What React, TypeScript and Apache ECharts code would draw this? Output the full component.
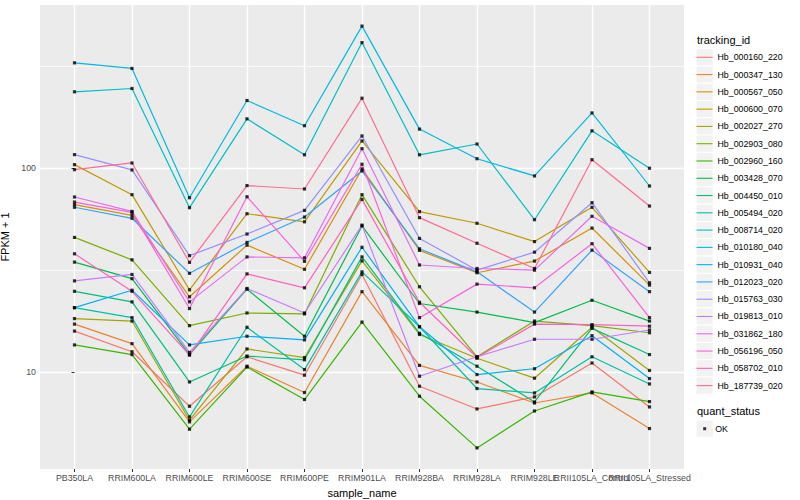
import React, { useEffect, useRef } from 'react';
import * as echarts from 'echarts';

const samples = ['PB350LA', 'RRIM600LA', 'RRIM600LE', 'RRIM600SE', 'RRIM600PE', 'RRIM901LA', 'RRIM928BA', 'RRIM928LA', 'RRIM928LE', 'RRII105LA_Control', 'RRII105LA_Stressed'];

const trackingIds = ['Hb_000160_220', 'Hb_000347_130', 'Hb_000567_050', 'Hb_000600_070', 'Hb_002027_270', 'Hb_002903_080', 'Hb_002960_160', 'Hb_003428_070', 'Hb_004450_010', 'Hb_005494_020', 'Hb_008714_020', 'Hb_010180_040', 'Hb_010931_040', 'Hb_012023_020', 'Hb_015763_030', 'Hb_019813_010', 'Hb_031862_180', 'Hb_056196_050', 'Hb_058702_010', 'Hb_187739_020'];

const colors = ['#F8766D', '#EA8331', '#D89000', '#C09B00', '#A3A500', '#7CAE00', '#39B600', '#00BB4E', '#00BF7D', '#00C1A3', '#00BFC4', '#00BAE0', '#00B0F6', '#35A2FF', '#9590FF', '#C77CFF', '#E76BF3', '#FA62DB', '#FF62BC', '#FF6C91'];

// FPKM + 1 values, one per sample (order of `samples`)
const hb000160 = [15.9, 12.6, 6.81, 11.9, 9.67, 30.1, 8.54, 6.61, 7.57, 11.1, 6.76];
const hb000347 = [17.2, 13.8, 5.71, 10.7, 7.95, 24.8, 10.8, 8.96, 7.07, 7.92, 5.3];
const hb000567 = [66.1, 58.6, 23.4, 41.9, 31.9, 98.9, 39.5, 30.7, 35.0, 50.8, 26.7];
const hb000600 = [103.8, 74.0, 25.3, 59.7, 54.5, 135.6, 61.1, 53.6, 43.6, 64.2, 30.8];
const hb002027 = [18.3, 17.8, 5.82, 13.0, 11.8, 35.1, 15.3, 11.7, 9.35, 16.6, 10.2];
const hb002903 = [45.7, 35.5, 16.9, 19.5, 19.3, 74.0, 26.2, 11.9, 17.8, 16.9, 15.6];
const hb002960 = [13.6, 12.2, 5.26, 10.6, 7.35, 17.6, 7.63, 4.26, 6.46, 8.01, 7.18];
const hb003428 = [34.6, 28.7, 12.2, 25.5, 15.0, 52.0, 21.7, 19.7, 17.5, 22.5, 17.8];
const hb004450 = [24.9, 22.1, 8.96, 12.0, 11.5, 36.7, 15.5, 10.7, 7.15, 16.4, 12.2];
const hb005494 = [20.7, 18.5, 6.04, 16.6, 10.3, 31.0, 16.7, 8.32, 7.92, 11.9, 8.76];
const hb008714 = [236, 245, 63.9, 174, 116, 411, 116, 131, 55.8, 152, 99.7];
const hb010180 = [327, 307, 71.5, 214, 161, 495, 155, 111, 91.4, 186, 81.6];
const hb010931 = [20.7, 25.2, 13.6, 15.0, 14.4, 40.9, 16.7, 9.74, 10.4, 15.1, 9.31];
const hb012023 = [64.2, 56.7, 30.5, 43.2, 57.5, 96.7, 40.2, 31.0, 19.7, 39.6, 24.8];
const hb015763 = [116.2, 97.8, 37.2, 47.5, 62.0, 143.5, 45.2, 31.6, 38.7, 67.6, 27.4];
const hb019813 = [28.0, 30.1, 12.5, 25.7, 19.5, 52.5, 9.56, 11.9, 14.5, 14.5, 16.1];
const hb031862 = [72.1, 61.3, 22.1, 36.7, 36.3, 124.3, 33.5, 32.2, 31.6, 58.0, 40.4];
const hb056196 = [68.1, 60.6, 20.5, 72.3, 34.9, 104.3, 18.5, 27.0, 25.9, 42.6, 18.5];
const hb058702 = [38.0, 24.9, 12.12, 30.3, 25.9, 70.2, 22.0, 11.8, 17.2, 17.1, 16.8];
const hb187739 = [98.1, 105.8, 34.5, 82.0, 78.9, 219.6, 57.1, 42.8, 32.2, 109.8, 65.1];

const seriesValues = [hb000160, hb000347, hb000567, hb000600, hb002027, hb002903, hb002960, hb003428, hb004450, hb005494, hb008714, hb010180, hb010931, hb012023, hb015763, hb019813, hb031862, hb056196, hb058702, hb187739];

const quantStatus = ['OK'];

const FONT = '"Liberation Sans", Arial, Helvetica, sans-serif';

export default function App() {
  const ref = useRef<HTMLDivElement>(null);

  useEffect(() => {
    if (!ref.current) return;
    const chart = echarts.init(ref.current, null, { renderer: 'svg' });

    const logs = seriesValues.flat().map((v) => Math.log10(v));
    const lo = Math.min(...logs);
    const hi = Math.max(...logs);
    const pad = (hi - lo) * 0.05;
    const yMin = lo - pad;
    const yMax = hi + pad;
    const majors: number[] = [];
    const minors: number[] = [];
    for (let k = Math.floor(yMin); k <= Math.ceil(yMax); k++) {
      if (k >= yMin && k <= yMax) majors.push(k);
      if (k + 0.5 >= yMin && k + 0.5 <= yMax) minors.push(k + 0.5);
    }
    const xIdx = samples.map((_, i) => i);
    const xEven = xIdx.filter((i) => i % 2 === 0);
    const xOdd = xIdx.filter((i) => i % 2 === 1);
    const xMin = -0.6;
    const xMax = samples.length - 1 + 0.6;

    const keyTop = 48.66;
    const keyStep = 17.28;
    const keyRects: any[] = trackingIds.map((_, i) => ({
      type: 'rect',
      shape: { x: 696, y: keyTop + i * keyStep, width: keyStep, height: keyStep },
      style: { fill: '#F2F2F2', stroke: '#FFFFFF', lineWidth: 1 },
      z: 0,
    }));
    const okTop = 420.06;
    keyRects.push({
      type: 'rect',
      shape: { x: 696, y: okTop, width: keyStep, height: keyStep },
      style: { fill: '#F2F2F2', stroke: '#FFFFFF', lineWidth: 1 },
      z: 0,
    });

    const lineSeries = trackingIds.map((id, s) => ({
      name: id,
      type: 'line',
      data: seriesValues[s].map((v, i) => [i, Math.log10(v)]),
      showSymbol: false,
      color: colors[s],
      lineStyle: { width: 1.2, color: colors[s] },
      z: 2,
      silent: true,
    }));

    const pointData: number[][] = [];
    seriesValues.forEach((vals) => vals.forEach((v, i) => pointData.push([i, Math.log10(v)])));

    const labelStyle = {
      showMinLabel: true,
      showMaxLabel: true,
      hideOverlap: false,
      margin: 4.5,
      fontSize: 8.8,
      color: '#4D4D4D',
      fontFamily: FONT,
      formatter: (v: number) => samples[Math.round(v)] ?? '',
    };

    const option: any = {
      animation: false,
      backgroundColor: '#FFFFFF',
      textStyle: { fontFamily: FONT },
      title: [
        { text: 'tracking_id', left: 697, top: 34.5, padding: 0, textStyle: { fontSize: 11, fontWeight: 'normal', color: '#000', fontFamily: FONT } },
        { text: 'quant_status', left: 697, top: 405.5, padding: 0, textStyle: { fontSize: 11, fontWeight: 'normal', color: '#000', fontFamily: FONT } },
      ],
      legend: [
        {
          data: trackingIds,
          orient: 'vertical',
          left: 696.5,
          top: keyTop,
          padding: 0,
          itemWidth: 16,
          itemHeight: keyStep,
          itemGap: 0,
          icon: 'path://M0,0H16V1.1H0Z',
          selectedMode: false,
          textStyle: { fontSize: 8.8, lineHeight: keyStep, color: '#000', fontFamily: FONT },
        },
        {
          data: quantStatus,
          orient: 'vertical',
          left: 703.2,
          top: okTop,
          padding: 0,
          itemWidth: 3,
          itemHeight: 3,
          icon: 'rect',
          selectedMode: false,
          textStyle: { fontSize: 8.8, lineHeight: keyStep, color: '#000', fontFamily: FONT, padding: [0, 0, 0, 4] },
        },
      ],
      graphic: keyRects,
      grid: {
        left: 40,
        right: 116,
        top: 5,
        bottom: 31,
        containLabel: false,
        outerBoundsMode: 'none',
        show: true,
        backgroundColor: '#EBEBEB',
        borderWidth: 0,
      },
      xAxis: [
        {
          type: 'value',
          position: 'bottom',
          min: xMin,
          max: xMax,
          name: 'sample_name',
          nameLocation: 'middle',
          nameGap: 8,
          nameTextStyle: { fontSize: 11, color: '#000', fontFamily: FONT },
          axisLine: { show: false },
          axisTick: { show: true, length: 3, customValues: xIdx, lineStyle: { color: '#333333', width: 1 } },
          axisLabel: { ...labelStyle, customValues: xEven },
          splitLine: { show: true, lineStyle: { color: '#FFFFFF', width: 1.4 } },
        },
        {
          type: 'value',
          position: 'bottom',
          offset: 0,
          min: xMin,
          max: xMax,
          axisLine: { show: false },
          axisTick: { show: false, customValues: xOdd },
          axisLabel: { ...labelStyle, customValues: xOdd },
          splitLine: { show: false },
        },
      ],
      yAxis: [
        {
          type: 'value',
          min: yMin,
          max: yMax,
          name: 'FPKM + 1',
          nameLocation: 'middle',
          nameGap: 15,
          nameRotate: 90,
          nameTextStyle: { fontSize: 11, color: '#000', fontFamily: FONT },
          axisLine: { show: false },
          axisTick: { show: true, length: 3, customValues: majors, lineStyle: { color: '#333333', width: 1 } },
          axisLabel: {
            customValues: majors,
            showMinLabel: true,
            showMaxLabel: true,
            margin: 4,
            fontSize: 8.8,
            color: '#4D4D4D',
            fontFamily: FONT,
            formatter: (v: number) => String(Math.round(Math.pow(10, v))),
          },
          splitLine: { show: true, lineStyle: { color: '#FFFFFF', width: 1.4 } },
        },
        {
          type: 'value',
          min: yMin,
          max: yMax,
          axisLine: { show: false },
          axisTick: { show: false, customValues: minors },
          axisLabel: { show: false, customValues: minors },
          splitLine: { show: true, lineStyle: { color: '#FFFFFF', width: 0.7 } },
        },
      ],
      series: [
        ...lineSeries,
        {
          name: quantStatus[0],
          type: 'scatter',
          data: pointData,
          symbol: 'rect',
          symbolSize: 3.2,
          itemStyle: { color: '#000000' },
          z: 3,
          silent: true,
        },
      ],
    };

    chart.setOption(option);
    return () => chart.dispose();
  }, []);

  return <div ref={ref} style={{ position: 'fixed', left: 0, top: 0, width: 800, height: 500, background: '#fff' }} />;
}
